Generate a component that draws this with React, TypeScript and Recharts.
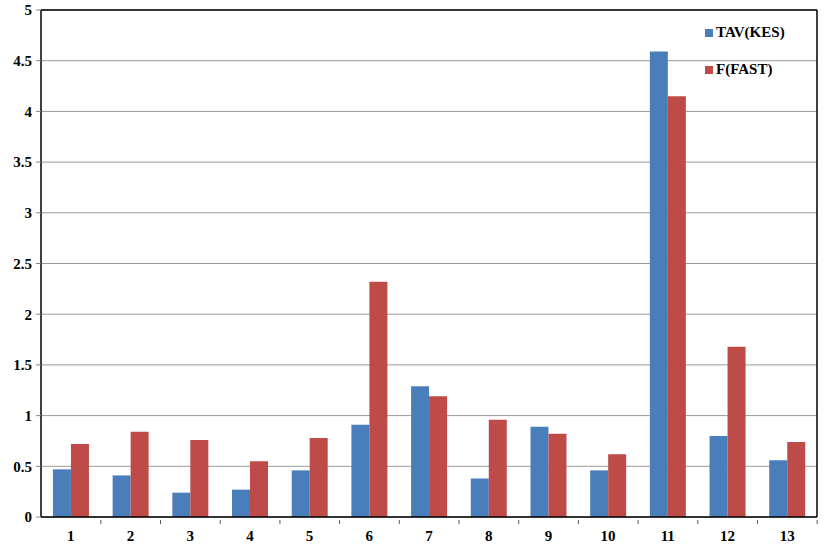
import { Bar, BarChart, CartesianGrid, XAxis, YAxis } from "recharts";

const categories = ["1", "2", "3", "4", "5", "6", "7", "8", "9", "10", "11", "12", "13"];
const tavKes = [0.47, 0.41, 0.24, 0.27, 0.46, 0.91, 1.29, 0.38, 0.89, 0.46, 4.59, 0.8, 0.56];
const fFast = [0.72, 0.84, 0.76, 0.55, 0.78, 2.32, 1.19, 0.96, 0.82, 0.62, 4.15, 1.68, 0.74];
const yTicks = [0, 0.5, 1, 1.5, 2, 2.5, 3, 3.5, 4, 4.5, 5];

const data = categories.map((c, i) => ({ name: c, tav: tavKes[i], fast: fFast[i] }));

const font = "Times New Roman, Liberation Serif, DejaVu Serif, serif";
const blue = "#4a7ebb";
const red = "#be4b48";

const legendItems = [
  { label: "TAV(KES)", color: blue },
  { label: "F(FAST)", color: red },
];

function XTick(props: any) {
  const { x, y, payload } = props;
  return (
    <g>
      <line x1={x + 30} y1={y - 5} x2={x + 30} y2={y - 1} stroke="#555" />
      <text x={x} y={y + 16} textAnchor="middle" style={{ fontFamily: font, fontWeight: "bold", fontSize: 15 }} fill="#000">
        {payload.value}
      </text>
    </g>
  );
}

export default function App() {
  return (
    <div style={{ position: "absolute", left: 0, top: 0, width: 827, height: 544, background: "#fff" }}>
      <BarChart
        width={827}
        height={544}
        data={data}
        margin={{ top: 9, right: 9, left: 0, bottom: 0 }}
        barCategoryGap="20%"
        barGap={0}
      >
        <CartesianGrid vertical={false} stroke="#9a9a9a" />
        <XAxis
          dataKey="name"
          height={27}
          axisLine={{ stroke: "#000", strokeWidth: 1.5 }}
          tickLine={false}
          tick={<XTick />}
          interval={0}
        />
        <XAxis xAxisId="top" orientation="top" dataKey="name" height={1} tick={false} tickLine={false} axisLine={{ stroke: "#000", strokeWidth: 1.5 }} />
        <YAxis
          domain={[0, 5]}
          ticks={yTicks}
          width={41}
          tickSize={5}
          tickMargin={4}
          axisLine={{ stroke: "#000", strokeWidth: 1.5 }}
          tickLine={{ stroke: "#888" }}
          tick={{ style: { fontFamily: font, fontWeight: "bold", fontSize: 15 }, fill: "#000" }}
        />
        <YAxis yAxisId="right" orientation="right" width={1} domain={[0, 5]} tick={false} tickLine={false} axisLine={{ stroke: "#000", strokeWidth: 1.5 }} />
        <Bar dataKey="tav" name="TAV(KES)" fill={blue} isAnimationActive={false} />
        <Bar dataKey="fast" name="F(FAST)" fill={red} isAnimationActive={false} />
      </BarChart>
      <div style={{ position: "absolute", left: 705, top: 14, fontFamily: font, fontWeight: "bold", fontSize: 15, color: "#000" }}>
        {legendItems.map((it) => (
          <div key={it.label} style={{ display: "flex", alignItems: "center", height: 37 }}>
            <span style={{ width: 8, height: 8, background: it.color, marginRight: 3, display: "inline-block" }} />
            {it.label}
          </div>
        ))}
      </div>
    </div>
  );
}
